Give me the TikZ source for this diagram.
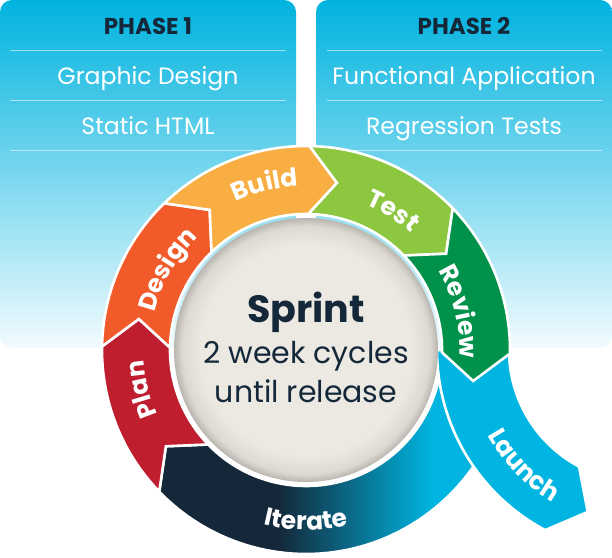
\documentclass[tikz,border=0pt]{standalone}
\usepackage{fontspec}
\setmainfont{Poppins}
\usetikzlibrary{calc,decorations.text}
\definecolor{navyc}{HTML}{14283A}
\definecolor{cyanc}{HTML}{00B5E1}
\definecolor{paneltop}{HTML}{00B3DF}
\definecolor{panelbot}{HTML}{F2FBFE}
\definecolor{planc}{HTML}{BE1E2D}
\definecolor{designc}{HTML}{F15A29}
\definecolor{buildc}{HTML}{F8AE42}
\definecolor{testc}{HTML}{8DC63F}
\definecolor{reviewc}{HTML}{00924A}
\definecolor{discc}{HTML}{ECE9E3}
\definecolor{discmid}{HTML}{DCD8D2}
\definecolor{discedge}{HTML}{B9B5AF}
\pgfdeclarehorizontalshading{iterateshade}{100bp}{color(0bp)=(navyc); color(42bp)=(navyc); color(64bp)=(cyanc); color(100bp)=(cyanc)}
\pgfdeclareradialshading{discshade}{\pgfpoint{0bp}{0bp}}{color(0bp)=(discc); color(20bp)=(discc); color(23.5bp)=(discmid); color(25bp)=(discedge); color(50bp)=(discedge)}
\newcommand{\ringseg}[2]{(#1:204) arc[start angle=#1, end angle=#2, radius=204] -- ({#2-9.5}:170) -- (#2:136) arc[start angle=#2, end angle=#1, radius=136] -- ({#1-9.5}:170) -- cycle}
\newcommand{\lblfont}{\fontsize{25}{29}\selectfont\bfseries}
\tikzset{
  seg/.style={draw=white, line width=2.6pt, line join=miter},
  ringlabel/.style={decorate, decoration={text along path, text align=center, text color=white}},
  rowtext/.style={text=white, font=\fontsize{23.6}{27}\selectfont, anchor=base},
  phasetext/.style={text=navyc, font=\fontsize{23}{27}\selectfont\bfseries, anchor=base},
  sepline/.style={draw=white, draw opacity=0.55, line width=0.8pt},
  panel/.style={top color=paneltop, bottom color=panelbot, rounded corners=12pt},
  disctext/.style={text=navyc, anchor=base, font=\fontsize{30}{34}\selectfont}
}
\begin{document}
\begin{tikzpicture}[x=1pt,y=1pt]
\useasboundingbox (0,0) rectangle (612,557);
\fill[white] (0,0) rectangle (612,557);
% panels
\shade[panel] (0,209) rectangle (296,557);
\shade[panel] (316,209) rectangle (612,557);
\draw[sepline] (10,507) -- (286,507);
\draw[sepline] (10,457) -- (286,457);
\draw[sepline] (10,407) -- (286,407);
\draw[sepline] (327,507) -- (602,507);
\draw[sepline] (327,457) -- (602,457);
\draw[sepline] (327,407) -- (602,407);
\node[phasetext] (ph1) at (148,522) {PHASE 1};
\node[rowtext] (gd) at (148,472) {Graphic Design};
\node[rowtext] (sh) at (148,422) {Static HTML};
\node[phasetext] (ph2) at (464,522) {PHASE 2};
\node[rowtext] (fa) at (464,472) {Functional Application};
\node[rowtext] (rt) at (464,422) {Regression Tests};
% ring
\begin{scope}[shift={(306,207)}]
  \shadedraw[seg, shading=iterateshade] \ringseg{359}{224};
\end{scope}
% launch band
\begin{scope}[shift={(641,207)}]
  \fill[cyanc, seg] (180:132) arc[start angle=180, end angle=242, radius=132]
     -- ($(242:168)+(332:29)$) -- (242:204) arc[start angle=242, end angle=180, radius=204] -- cycle;
  \path[ringlabel, decoration={text={|\lblfont|Launch}}] (202.5:176) arc[start angle=202.5, end angle=246.5, radius=176];
\end{scope}
\begin{scope}[shift={(306,207)}]
  \fill[planc, seg] \ringseg{224}{179};
  \fill[designc, seg] \ringseg{179}{134};
  \fill[buildc, seg] \ringseg{134}{89};
  \fill[testc, seg] \ringseg{89}{44};
  \fill[reviewc, seg] \ringseg{44}{-1};
  \path[ringlabel, decoration={text={|\lblfont|Plan}}] (215.5:162) arc[start angle=215.5, end angle=171.5, radius=162];
  \path[ringlabel, decoration={text={|\lblfont|Design}}] (174:156) arc[start angle=174, end angle=126, radius=156];
  \path[ringlabel, decoration={text={|\lblfont|Build}}] (126:164) arc[start angle=126, end angle=82, radius=164];
  \path[ringlabel, decoration={text={|\lblfont|Test}}] (80:157) arc[start angle=80, end angle=36, radius=157];
  \path[ringlabel, decoration={text={|\lblfont|Review}}] (38:154) arc[start angle=38, end angle=-10, radius=154];
  \path[ringlabel, decoration={text={|\lblfont|Iterate}}] (248:180) arc[start angle=248, end angle=292, radius=180];
\end{scope}
% disc
\node[circle, minimum size=264pt, inner sep=0pt, shade, shading=discshade] (disc) at (306,207) {};
\node[disctext, font=\fontsize{38}{42}\selectfont\bfseries] (sprint) at (306,234) {Sprint};
\node[disctext] (cyc) at (306,194) {2 week cycles};
\node[disctext] (rel) at (306,155) {until release};
\end{tikzpicture}
\end{document}
